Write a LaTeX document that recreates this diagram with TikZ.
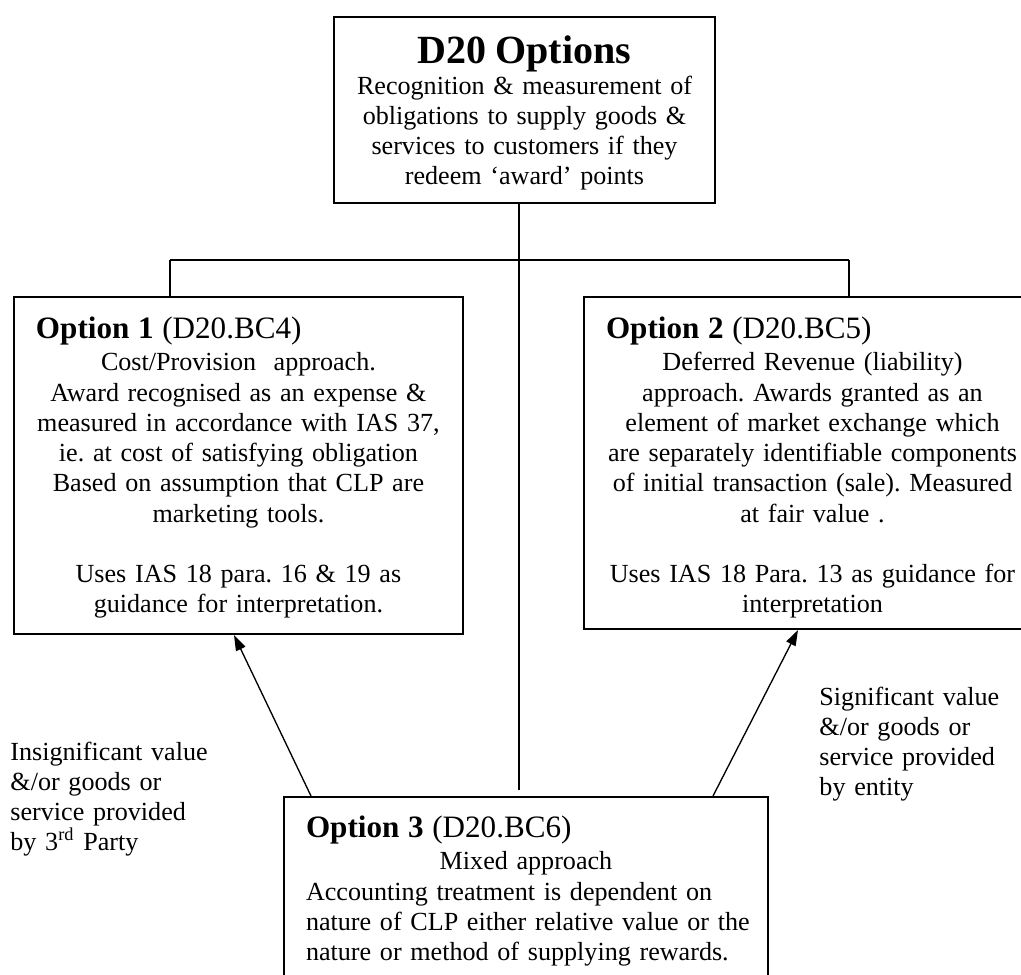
\documentclass[tikz,border=0pt]{standalone}
\usepackage{fontspec}
\setmainfont{Liberation Serif}
\usetikzlibrary{arrows.meta,positioning,calc}

% first line of an option box: bold number, reference in brackets
\newcommand{\opthead}[2]{%
  \hspace*{9.9pt}{\fontsize{14}{16}\selectfont\textbf{Option #1} (#2)}\par
  \vspace{1.2pt}}

\begin{document}
\frenchspacing
\begin{tikzpicture}[
  x=0.45pt, y=-0.45pt,
  every node/.style={inner sep=0pt},
  optbox/.style={draw=black, line width=0.9pt, anchor=north west,
                 font=\fontsize{11.75}{13.6}\selectfont},
  note/.style  ={anchor=base west, text width=100pt, align=left,
                 font=\fontsize{11.75}{13.6}\selectfont},
  link/.style  ={draw=black, line width=0.5pt},
  ar/.style    ={-{Triangle[length=7pt,width=4.6pt]}, line width=0.6pt}]

\useasboundingbox (0,0) rectangle (1021,974);
\clip (0,0) rectangle (1021,974);

% ----------------------------- the question ---------------------------
\node[optbox, anchor=north, text width=171.5pt, align=center,
      text height=20.7pt, text depth=63pt] (d20) at (524.5,16)
  {{\fontsize{18}{20}\selectfont\bfseries D20 Options}\\[0.4pt]
   Recognition \& measurement of\\ obligations to supply goods \&\\
   services to customers if they\\ redeem `award' points};

% ----------------------------- option 1 -------------------------------
\node[optbox, text width=202pt, text height=18.45pt, text depth=133.2pt]
  (opt1) at (13,296)
  {\opthead{1}{D20.BC4}
   \centering Cost/Provision\ \ approach.\\ Award recognised as an expense \&\\
   measured in accordance with IAS 37,\\ ie. at cost of satisfying obligation\\
   Based on assumption that CLP are\\ marketing tools.\\[13.6pt]
   Uses IAS 18 para. 16 \& 19 as\\ guidance for interpretation.\par};

% ----------------------------- option 2 -------------------------------
\node[optbox, text width=205.65pt, text height=18.45pt, text depth=130.95pt]
  (opt2) at (583,296)
  {\opthead{2}{D20.BC5}
   \centering Deferred Revenue (liability)\\ approach. Awards granted as an\\
   element of market exchange which\\ are separately identifiable components\\
   of initial transaction (sale). Measured\\ at fair value .\\[13.6pt]
   Uses IAS 18 Para. 13 as guidance for\\ interpretation\par};

% ----------------------------- option 3 -------------------------------
\node[optbox, text width=217.8pt, text height=18pt, text depth=73.8pt]
  (opt3) at (283,796)
  {\opthead{3}{D20.BC6}
   {\centering Mixed approach\par}
   {\raggedright\leftskip=9.9pt Accounting treatment is dependent on\\
    nature of CLP either relative value or the\\
    nature or method of supplying rewards.\par}};

% ----------------------------- the tree -------------------------------
\coordinate (top)     at ($(d20.south)+(-5.5,0)$);
\coordinate (stemend) at ($(top)+(0,586)$);
\coordinate (left)    at ($(opt1.north west)+(157,-36)$);
\coordinate (right)   at ($(opt2.north west)+(266,-36)$);
\draw[link] (top) -- (stemend);
\draw[link] (left) -- (right);
\draw[link] (left) -- (left |- opt1.north);
\draw[link] (right) -- (right |- opt2.north);

% -------------------------- the conditions ----------------------------
\draw[ar] ($(opt3.north west)+(28,0)$) -- ($(opt1.south west)+(221,0)$);
\draw[ar] ($(opt3.north east)+(-56,0)$) -- ($(opt2.south west)+(215,0)$);

\node[note] (insig) at (10,760)
  {Insignificant value\\ \&/or goods or\\ service provided\\
   by 3\textsuperscript{rd} Party};
\node[note] (sig) at (819,705)
  {Significant value\\ \&/or goods or\\ service provided\\ by entity};

\end{tikzpicture}
\end{document}
